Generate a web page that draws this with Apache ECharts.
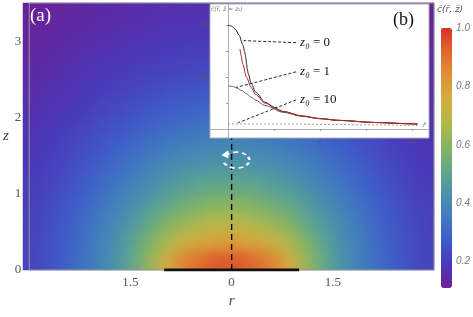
<!DOCTYPE html>
<html><head><meta charset="utf-8">
<script src="https://cdn.jsdelivr.net/npm/echarts@6/dist/echarts.min.js"></script>
<style>html,body{margin:0;padding:0;background:#fff}#c{width:473px;height:317px;background:#fff}</style>
</head><body>
<svg width="0" height="0" style="position:absolute">
  <filter id="soft" x="0" y="0" width="100%" height="100%" color-interpolation-filters="sRGB">
    <feGaussianBlur stdDeviation="7"/>
    <feComponentTransfer><feFuncA type="linear" slope="40" intercept="0"/></feComponentTransfer>
  </filter>
</svg>
<div id="c"></div>
<script>
// ---- panel (a): concentration field, read at cell centres ----
const rCenters = [-2.875,-2.625,-2.375,-2.125,-1.875,-1.625,-1.375,-1.125,-0.875,-0.625,-0.375,-0.125,0.125,0.375,0.625,0.875,1.125,1.375,1.625,1.875,2.125,2.375,2.625,2.875];
const zCenters = [0.125,0.375,0.625,0.875,1.125,1.375,1.625,1.875,2.125,2.375,2.625,2.875,3.125,3.375];
const c_z0125 = [0.219,0.246,0.281,0.326,0.379,0.442,0.522,0.630,0.774,0.872,0.922,0.944,0.944,0.922,0.872,0.774,0.630,0.522,0.442,0.379,0.326,0.281,0.246,0.219];
const c_z0375 = [0.218,0.243,0.275,0.320,0.370,0.429,0.497,0.579,0.665,0.730,0.777,0.800,0.800,0.777,0.730,0.665,0.579,0.497,0.429,0.370,0.320,0.275,0.243,0.218];
const c_z0625 = [0.213,0.237,0.267,0.306,0.354,0.406,0.460,0.521,0.581,0.627,0.660,0.677,0.677,0.660,0.627,0.581,0.521,0.460,0.406,0.354,0.306,0.267,0.237,0.213];
const c_z0875 = [0.207,0.230,0.255,0.289,0.332,0.375,0.423,0.466,0.511,0.546,0.573,0.587,0.587,0.573,0.546,0.511,0.466,0.423,0.375,0.332,0.289,0.255,0.230,0.207];
const c_z1125 = [0.200,0.219,0.243,0.270,0.304,0.343,0.382,0.420,0.451,0.478,0.498,0.509,0.509,0.498,0.478,0.451,0.420,0.382,0.343,0.304,0.270,0.243,0.219,0.200];
const c_z1375 = [0.192,0.210,0.230,0.252,0.279,0.311,0.343,0.373,0.400,0.422,0.436,0.444,0.444,0.436,0.422,0.400,0.373,0.343,0.311,0.279,0.252,0.230,0.210,0.192];
const c_z1625 = [0.183,0.198,0.216,0.234,0.255,0.281,0.306,0.330,0.352,0.370,0.382,0.388,0.388,0.382,0.370,0.352,0.330,0.306,0.281,0.255,0.234,0.216,0.198,0.183];
const c_z1875 = [0.174,0.188,0.203,0.218,0.236,0.252,0.272,0.292,0.309,0.323,0.333,0.340,0.340,0.333,0.323,0.309,0.292,0.272,0.252,0.236,0.218,0.203,0.188,0.174];
const c_z2125 = [0.165,0.177,0.189,0.203,0.216,0.231,0.245,0.258,0.272,0.282,0.291,0.294,0.294,0.291,0.282,0.272,0.258,0.245,0.231,0.216,0.203,0.189,0.177,0.165];
const c_z2375 = [0.155,0.167,0.177,0.189,0.200,0.212,0.222,0.233,0.243,0.249,0.255,0.258,0.258,0.255,0.249,0.243,0.233,0.222,0.212,0.200,0.189,0.177,0.167,0.155];
const c_z2625 = [0.145,0.155,0.165,0.176,0.185,0.194,0.204,0.212,0.219,0.225,0.228,0.231,0.231,0.228,0.225,0.219,0.212,0.204,0.194,0.185,0.176,0.165,0.155,0.145];
const c_z2875 = [0.135,0.145,0.153,0.163,0.171,0.179,0.186,0.194,0.200,0.204,0.207,0.209,0.209,0.207,0.204,0.200,0.194,0.186,0.179,0.171,0.163,0.153,0.145,0.135];
const c_z3125 = [0.127,0.135,0.142,0.150,0.158,0.165,0.171,0.177,0.182,0.185,0.188,0.189,0.189,0.188,0.185,0.182,0.177,0.171,0.165,0.158,0.150,0.142,0.135,0.127];
const c_z3375 = [0.118,0.125,0.132,0.138,0.145,0.152,0.157,0.162,0.167,0.170,0.171,0.173,0.173,0.171,0.170,0.167,0.162,0.157,0.152,0.145,0.138,0.132,0.125,0.118];
const cRows = [c_z0125,c_z0375,c_z0625,c_z0875,c_z1125,c_z1375,c_z1625,c_z1875,c_z2125,c_z2375,c_z2625,c_z2875,c_z3125,c_z3375];
const cMin = 0.11, cMax = 1.0;
const rTicks = [-1.5, 0, 1.5];
const zTicks = [0, 1, 2, 3];
const cbarTicks = [0.2, 0.4, 0.6, 0.8, 1.0];
const discLine = [[-1, 0], [1, 0]];
const centerLine = [[0, 0], [0, 1.73]];
const swirlCenter = [0.07, 1.44];

// ---- panel (b): profiles c(r, z = z0) ----
const r_z0_0 = [0,0.2,0.4,0.6,0.8,0.9,0.95,0.98,1.0,1.05,1.1,1.25,1.5,2,2.5,3,4,5,6,8,10,10.3];
const c_z0_0 = [1.000,0.990,0.959,0.903,0.813,0.746,0.703,0.668,0.637,0.575,0.532,0.444,0.356,0.259,0.204,0.169,0.126,0.1005,0.0836,0.0626,0.0501,0.0486];
const r_z0_1 = [0,0.25,0.5,0.75,1,1.25,1.5,2,3,4,5,6,8,10,10.3];
const c_z0_1 = [0.414,0.409,0.393,0.369,0.339,0.307,0.277,0.226,0.160,0.122,0.0985,0.0825,0.0621,0.0498,0.0484];
const r_z0_10 = [0,2,4,6,8,10,10.3];
const c_z0_10 = [0.0499,0.0489,0.0463,0.0428,0.0390,0.0353,0.0348];
const r_far = [0.65,0.7,0.8,1,1.25,1.5,2,3,4,5,6,8,10,10.3];
const c_far = [0.769,0.714,0.625,0.5,0.4,0.333,0.25,0.1667,0.125,0.1,0.0833,0.0625,0.05,0.0485];
const insetTicksX = [5, 10];
const insetTicksY = [0.5, 1.0];
const arrowFrom = [[3.7, 0.83], [3.7, 0.55], [3.7, 0.28]];
const arrowTo = [[0.85, 0.85], [0.45, 0.40], [0.55, 0.06]];
const arrowLabels = ['0', '1', '10'];

const palette = ['#6c2096','#4a38b8','#3f5cc8','#407cc0','#4a92aa','#62a888','#88b460','#b4b84a','#d4ac3e','#de9236','#e06a2e','#d93028'];
const serif = '"Liberation Serif","DejaVu Serif",serif';
const TOP = 2;

const heatData = [];
zCenters.forEach((z, j) => cRows[j].forEach((v, i) => heatData.push([i, j, v])));
const zip = (a, b) => a.map((x, i) => [x, b[i]]);

const chart = echarts.init(document.getElementById('c'), null, {renderer: 'canvas', width: 473, height: 317});
chart.setOption({
  animation: false,
  backgroundColor: 'transparent',
  grid: [
    {left: 23, top: 3, width: 411, height: 267},
    {left: 23, top: 3, width: 411, height: 267, show: true, borderColor: '#9a9a9a', borderWidth: 1, backgroundColor: 'transparent', zlevel: TOP, z: 3},
    {left: 210, top: 4, width: 219, height: 134, show: true, backgroundColor: '#fff', borderColor: '#b0b0b0', borderWidth: 1, zlevel: TOP, z: 5},
    {left: 441, top: 28, width: 11, height: 260, zlevel: TOP}
  ],
  xAxis: [
    {type: 'category', gridIndex: 0, data: rCenters.map(String), show: false},
    {type: 'value', gridIndex: 1, min: -3, max: 3, zlevel: TOP, z: 3,
      axisLine: {show: false}, splitLine: {show: false},
      axisTick: {show: true, inside: true, length: 4, customValues: rTicks, lineStyle: {color: '#8a8a8a'}},
      axisLabel: {customValues: rTicks, formatter: v => String(Math.abs(v)), color: '#555', fontSize: 13, fontFamily: serif, margin: 6},
      name: 'r', nameLocation: 'middle', nameGap: 22,
      nameTextStyle: {fontStyle: 'italic', fontFamily: serif, fontSize: 15, color: '#444'}},
    {type: 'value', gridIndex: 2, min: -0.978, max: 10.92, zlevel: TOP, z: 6,
      axisLine: {onZero: true, lineStyle: {color: '#9a9a9a', width: 0.8}},
      axisTick: {show: true, customValues: [2.5, 5, 7.5, 10], length: 2, lineStyle: {color: '#9a9a9a'}},
      axisLabel: {customValues: insetTicksX, fontSize: 6, color: '#555', margin: 2},
      splitLine: {show: false}},
    {type: 'value', gridIndex: 3, show: false, min: 0, max: 1, zlevel: TOP}
  ],
  yAxis: [
    {type: 'category', gridIndex: 0, data: zCenters.map(String), show: false},
    {type: 'value', gridIndex: 1, min: 0, max: 3.5, zlevel: TOP, z: 3,
      axisLine: {show: false}, splitLine: {show: false},
      axisTick: {show: true, inside: true, length: 4, customValues: zTicks, lineStyle: {color: '#8a8a8a'}},
      axisLabel: {customValues: zTicks, color: '#555', fontSize: 13, fontFamily: serif, margin: 8},
      name: 'z', nameLocation: 'middle', nameGap: 16, nameRotate: 0,
      nameTextStyle: {fontStyle: 'italic', fontFamily: serif, fontSize: 15, color: '#444', padding: [38, 0, 0, 0]}},
    {type: 'value', gridIndex: 2, position: 'left', min: -0.0865, max: 1.202, zlevel: TOP, z: 6,
      axisLine: {onZero: true, lineStyle: {color: '#9a9a9a', width: 0.8}},
      axisTick: {show: true, customValues: [0.25, 0.5, 0.75, 1.0], length: 2, lineStyle: {color: '#9a9a9a'}},
      axisLabel: {customValues: insetTicksY, formatter: v => v.toFixed(1), fontSize: 7, color: '#555', margin: 2},
      splitLine: {show: false}},
    {type: 'value', gridIndex: 3, position: 'right', min: cMin, max: cMax, zlevel: TOP,
      axisLine: {show: false}, splitLine: {show: false},
      axisTick: {show: true, customValues: cbarTicks, length: 3, lineStyle: {color: '#aaa'}},
      axisLabel: {customValues: cbarTicks, formatter: v => v.toFixed(1), fontStyle: 'italic', color: '#777', fontSize: 10, margin: 5}}
  ],
  visualMap: {
    type: 'continuous', seriesIndex: [0, 1], min: cMin, max: cMax, calculable: false,
    left: 441, top: 28, itemWidth: 11, itemHeight: 260, padding: 0, text: null, zlevel: TOP,
    inRange: {color: palette}
  },
  series: [
    // crisp field
    {type: 'heatmap', xAxisIndex: 0, yAxisIndex: 0, data: heatData, zlevel: 0, z: 1, progressive: 0, itemStyle: {borderWidth: 0}},
    // same field on its own layer, softened like the smooth density plot
    {type: 'heatmap', xAxisIndex: 0, yAxisIndex: 0, data: heatData, zlevel: 1, z: 1, progressive: 0, itemStyle: {borderWidth: 0}},
    {type: 'line', xAxisIndex: 1, yAxisIndex: 1, data: centerLine, symbol: 'none', zlevel: TOP, z: 4,
      lineStyle: {color: '#000', width: 1.4, type: [6, 4]}},
    {type: 'line', xAxisIndex: 1, yAxisIndex: 1, data: discLine, symbol: 'none', zlevel: TOP, z: 4,
      lineStyle: {color: '#111', width: 3}},
    {type: 'line', xAxisIndex: 2, yAxisIndex: 2, data: zip(r_z0_0, c_z0_0), symbol: 'none', zlevel: TOP, z: 7,
      smooth: 0.3, smoothMonotone: 'x', lineStyle: {color: '#222', width: 1}},
    {type: 'line', xAxisIndex: 2, yAxisIndex: 2, data: zip(r_z0_1, c_z0_1), symbol: 'none', zlevel: TOP, z: 7,
      smooth: 0.3, smoothMonotone: 'x', lineStyle: {color: '#444', width: 0.8}},
    {type: 'line', xAxisIndex: 2, yAxisIndex: 2, data: zip(r_z0_10, c_z0_10), symbol: 'none', zlevel: TOP, z: 7,
      lineStyle: {color: '#888', width: 0.8, type: [2, 2]},
      markLine: {silent: true, zlevel: TOP, z: 9, symbol: ['none', 'arrow'], symbolSize: [0, 7], label: {show: false},
        lineStyle: {color: '#111', width: 0.9, type: [3, 2]},
        data: arrowFrom.map((p, i) => [{coord: p}, {coord: arrowTo[i]}])}},
    {type: 'line', xAxisIndex: 2, yAxisIndex: 2, data: zip(r_far, c_far), symbol: 'none', zlevel: TOP, z: 7,
      smooth: 0.3, smoothMonotone: 'x', lineStyle: {color: '#b5262a', width: 1}},
    {type: 'line', xAxisIndex: 3, yAxisIndex: 3, data: [], zlevel: TOP}
  ]
});

const sw = chart.convertToPixel({gridIndex: 1}, swirlCenter);
const graphics = [
  {type: 'text', left: 30, top: 7, zlevel: TOP, z: 20, style: {text: '(a)', fill: '#fff', font: '19px ' + serif}},
  {type: 'text', left: 393, top: 11, zlevel: TOP, z: 20, style: {text: '(b)', fill: '#111', font: '18px ' + serif}},
  {type: 'text', left: 437, top: 5, zlevel: TOP, z: 20, style: {text: 'c\u0304(r\u0304, z\u0304)', fill: '#555', font: 'italic 9px "DejaVu Sans"'}},
  {type: 'text', left: 211, top: 6, zlevel: TOP, z: 20, style: {text: 'c\u0304(r\u0304, z\u0304 = z\u2080)', fill: '#777', font: 'italic 6px "DejaVu Sans"'}},
  {type: 'text', left: 423, top: 122, zlevel: TOP, z: 20, style: {text: 'r\u0304', fill: '#777', font: 'italic 7px "DejaVu Sans"'}},
  {type: 'arc', x: sw[0], y: sw[1], scaleX: 1.3, scaleY: 0.8, zlevel: TOP, z: 20,
    shape: {cx: 0, cy: 0, r: 10, startAngle: 3.75, endAngle: 3.05, clockwise: true},
    style: {fill: null, stroke: '#fff', lineWidth: 2, lineDash: [4, 3]}},
  {type: 'polygon', zlevel: TOP, z: 20, shape: {points: [[sw[0] - 15, sw[1] - 5], [sw[0] - 8, sw[1] - 10], [sw[0] - 8, sw[1] - 2]]},
    style: {fill: '#fff'}}
];
arrowFrom.forEach((p, i) => {
  const px = chart.convertToPixel({gridIndex: 2}, p);
  graphics.push({type: 'text', x: px[0] + 4, y: px[1], zlevel: TOP, z: 20,
    style: {text: '{i|z\u2080}{n| = ' + arrowLabels[i] + '}', verticalAlign: 'middle',
      rich: {i: {fontStyle: 'italic', fontFamily: serif, fontSize: 13, fill: '#111'},
             n: {fontFamily: serif, fontSize: 13, fill: '#111'}}}});
});
chart.setOption({graphic: graphics});

// soften the second field layer (edge-normalised blur), kept inside the plot frame
const layer = chart.getZr().painter.getLayer(1);
if (layer && layer.dom) {
  layer.dom.style.filter = 'url(#soft)';
  layer.dom.style.clipPath = 'inset(3px 39px 47px 23px)';
}
</script>
</body></html>
